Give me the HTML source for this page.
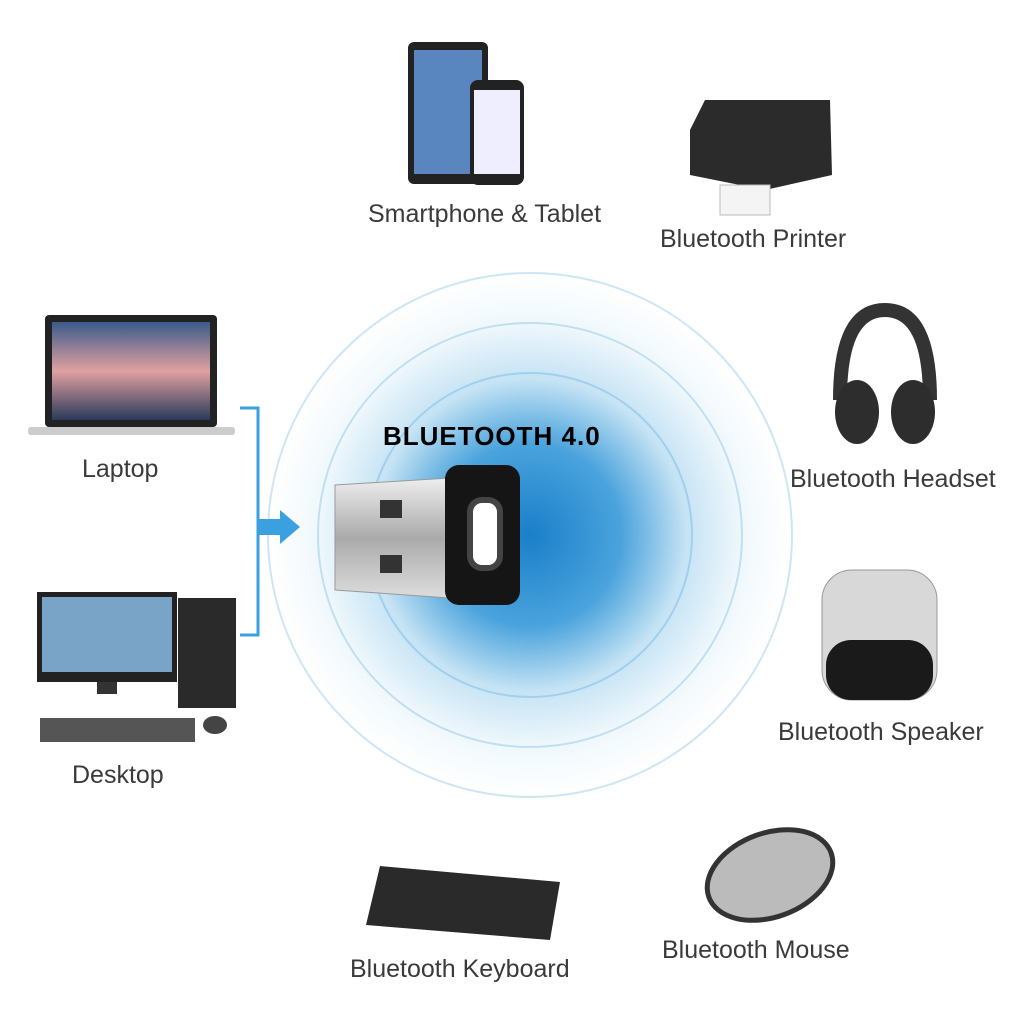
<!DOCTYPE html>
<html><head><meta charset="utf-8"><style>
body{margin:0;width:1024px;height:1024px;background:#fff;position:relative;overflow:hidden;font-family:"Liberation Sans",sans-serif}
.l{position:absolute;color:#3a3a3a;font-size:25px;white-space:nowrap}
.a{position:absolute}
</style></head><body>
<svg class="a" style="left:0;top:0" width="1024" height="1024">
<defs>
<radialGradient id="g" cx="530" cy="535" r="260" gradientUnits="userSpaceOnUse">
<stop offset="0" stop-color="#1a7fc9"/><stop offset="0.35" stop-color="#4aa3dc"/>
<stop offset="0.6" stop-color="#c5e3f4"/><stop offset="0.82" stop-color="#f0f8fc"/><stop offset="1" stop-color="#fff"/>
</radialGradient>
<linearGradient id="u" x1="0" y1="0" x2="0" y2="1"><stop offset="0" stop-color="#eee"/><stop offset="0.5" stop-color="#aaa"/><stop offset="1" stop-color="#ddd"/></linearGradient>
<linearGradient id="sky" x1="0" y1="0" x2="0" y2="1"><stop offset="0" stop-color="#3a5a8a"/><stop offset="0.5" stop-color="#e0a0a0"/><stop offset="1" stop-color="#2a3a5a"/></linearGradient>
</defs>
<circle cx="530" cy="535" r="262" fill="url(#g)"/>
<circle cx="530" cy="535" r="262" fill="none" stroke="#cde6f5" stroke-width="2"/>
<circle cx="530" cy="535" r="212" fill="none" stroke="#bfe0f3" stroke-width="2"/>
<circle cx="530" cy="535" r="162" fill="none" stroke="#9fd0ee" stroke-width="2"/>
<path d="M335 485 L450 478 L450 598 L335 590 Z" fill="url(#u)" stroke="#999"/>
<rect x="380" y="500" width="22" height="18" fill="#333"/>
<rect x="380" y="555" width="22" height="18" fill="#333"/>
<rect x="445" y="465" width="75" height="140" rx="14" fill="#151515"/>
<rect x="470" y="500" width="30" height="68" rx="12" fill="#fff" stroke="#444" stroke-width="6"/>
<path d="M240 408 H258 V635 H240" fill="none" stroke="#3aa0e0" stroke-width="3"/>
<path d="M258 519 H280 V510 L300 527 L280 544 V535 H258 Z" fill="#3aa0e0"/>
<rect x="45" y="315" width="172" height="112" rx="4" fill="#222"/>
<rect x="52" y="322" width="158" height="98" fill="url(#sky)"/>
<rect x="28" y="427" width="207" height="8" rx="3" fill="#ccc"/>
<rect x="37" y="592" width="140" height="90" fill="#222"/>
<rect x="42" y="597" width="130" height="75" fill="#7aa3c8"/>
<rect x="97" y="682" width="20" height="12" fill="#333"/>
<rect x="178" y="598" width="58" height="110" fill="#2a2a2a"/>
<rect x="40" y="718" width="155" height="24" fill="#555"/>
<ellipse cx="215" cy="725" rx="12" ry="9" fill="#444"/>
<rect x="408" y="42" width="80" height="142" rx="6" fill="#222"/>
<rect x="414" y="50" width="68" height="124" fill="#5a86c0"/>
<rect x="470" y="80" width="54" height="105" rx="8" fill="#222"/>
<rect x="474" y="90" width="46" height="84" fill="#eef"/>
<path d="M690 130 L705 100 L830 100 L832 175 L765 190 L690 175 Z" fill="#2b2b2b"/>
<rect x="720" y="185" width="50" height="30" fill="#f4f4f4" stroke="#bbb"/>
<path d="M840 400 Q840 310 885 310 Q930 310 930 400" fill="none" stroke="#333" stroke-width="14"/>
<ellipse cx="857" cy="412" rx="22" ry="32" fill="#2d2d2d"/>
<ellipse cx="913" cy="412" rx="22" ry="32" fill="#2d2d2d"/>
<rect x="822" y="570" width="115" height="130" rx="30" fill="#d8d8d8" stroke="#999"/>
<rect x="826" y="640" width="107" height="60" rx="25" fill="#1a1a1a"/>
<path d="M380 866 L560 882 L550 940 L366 925 Z" fill="#2a2a2a"/>
<ellipse cx="770" cy="875" rx="65" ry="42" transform="rotate(-20 770 875)" fill="#bbb" stroke="#333" stroke-width="5"/>
</svg>
<div class="l" style="left:368px;top:200px">Smartphone &amp; Tablet</div>
<div class="l" style="left:660px;top:225px">Bluetooth Printer</div>
<div class="l" style="left:82px;top:455px">Laptop</div>
<div class="l" style="left:790px;top:465px">Bluetooth Headset</div>
<div class="l" style="left:72px;top:761px">Desktop</div>
<div class="l" style="left:778px;top:718px">Bluetooth Speaker</div>
<div class="l" style="left:662px;top:936px">Bluetooth Mouse</div>
<div class="l" style="left:350px;top:955px">Bluetooth Keyboard</div>
<div class="a" style="left:383px;top:421px;font-size:26px;font-weight:bold;letter-spacing:1px;color:#000">BLUETOOTH 4.0</div>
</body></html>
